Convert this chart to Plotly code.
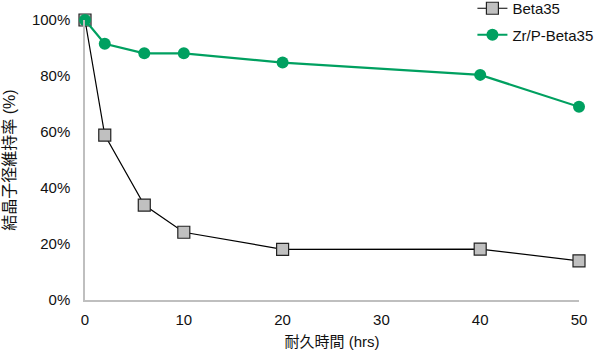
import plotly.graph_objects as go

hours = [0, 2, 6, 10, 20, 40, 50]
beta35 = [100, 58.9, 33.9, 24.2, 18.1, 18.2, 14.0]
zrp_beta35 = [100, 91.5, 88.1, 88.1, 84.8, 80.4, 69.0]
x_ticks = [0, 10, 20, 30, 40, 50]
y_ticks = [0, 20, 40, 60, 80, 100]
y_tick_labels = ["0%", "20%", "40%", "60%", "80%", "100%"]

fig = go.Figure()
fig.add_trace(go.Scatter(
    x=hours, y=beta35, name="Beta35", mode="lines+markers", legendgroup="a",
    line=dict(color="#000000", width=1.2),
    marker=dict(symbol="square", size=12, color="#c0c0c0", line=dict(color="#222222", width=1.2)),
    cliponaxis=False,
))
fig.add_trace(go.Scatter(
    x=hours, y=zrp_beta35, name="Zr/P-Beta35", mode="lines+markers", legendgroup="b",
    line=dict(color="#00a060", width=2.2),
    marker=dict(symbol="circle", size=12, color="#00a060"),
    cliponaxis=False,
))

font = "Liberation Sans, Arial, Noto Sans CJK JP, sans-serif"
fig.update_layout(
    width=598, height=354,
    margin=dict(l=85, r=19, t=20, b=54, autoexpand=False),
    paper_bgcolor="white", plot_bgcolor="white",
    font=dict(family=font, size=15, color="#111111"),
    showlegend=True,
    legend=dict(xref="container", yref="paper", x=0.79, y=1.1, xanchor="left", yanchor="top",
                bgcolor="rgba(0,0,0,0)", traceorder="grouped",
                font=dict(size=15), tracegroupgap=4, itemwidth=30),
    xaxis=dict(range=[0, 50], tickvals=x_ticks, showgrid=False, zeroline=False,
               showline=True, linecolor="#bfbfbf", linewidth=1.5, ticks="", ticklabelstandoff=5,
               title=dict(text="耐久時間 (hrs)", standoff=10, font=dict(size=15))),
    yaxis=dict(range=[0, 100], tickvals=y_ticks, ticktext=y_tick_labels, showgrid=False, zeroline=False,
               showline=True, linecolor="#bfbfbf", linewidth=1.5, ticks="", ticklabelstandoff=10,
               title=dict(text="結晶子径維持率 (%)", standoff=12, font=dict(size=16))),
)
fig.write_html("out.html")
